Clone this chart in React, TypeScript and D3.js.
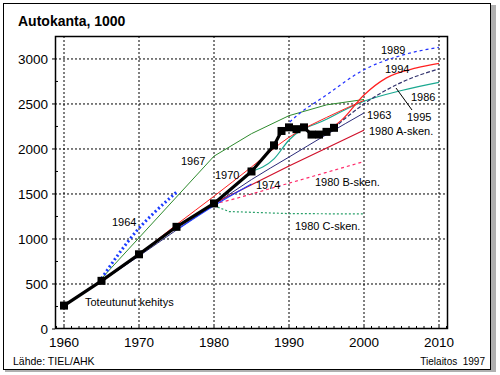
import React from "react";
import * as d3 from "d3";

const actualYears = [1960, 1965, 1970, 1975, 1980, 1985, 1988, 1989, 1990, 1991, 1992, 1993, 1994, 1995, 1996];
const actualValues = [260, 535, 830, 1135, 1395, 1750, 2040, 2200, 2240, 2220, 2240, 2160, 2160, 2190, 2235];

const f1963Years = [1960, 1965, 1970, 1975, 1980, 1985, 1990, 1995, 2000];
const f1963Values = [260, 530, 810, 1100, 1380, 1660, 1910, 2160, 2400];
const f1964Years = [1965, 1967, 1970, 1972, 1975];
const f1964Values = [560, 800, 1120, 1290, 1520];
const f1967Years = [1965, 1980, 1985, 1990, 1995, 2000];
const f1967Values = [560, 1920, 2170, 2370, 2490, 2550];
const f1970Years = [1970, 1975, 1980, 1985, 1990, 1995, 2000];
const f1970Values = [830, 1160, 1475, 1800, 2130, 2350, 2540];
const f1974Years = [1975, 1980, 1985];
const f1974Values = [1100, 1370, 1610];
const f1980AYears = [1980, 1990, 2000];
const f1980AValues = [1395, 1810, 2210];
const f1980BYears = [1980, 1982, 1985, 1990, 1995, 2000];
const f1980BValues = [1390, 1430, 1500, 1620, 1740, 1860];
const f1980CYears = [1980, 1982, 1990, 2000];
const f1980CValues = [1370, 1305, 1282, 1278];
const f1986Years = [1985, 1988, 1990, 1995, 2000, 2005, 2010];
const f1986Values = [1750, 1890, 2100, 2330, 2530, 2650, 2740];
const f1989Years = [1989, 1990, 1995, 2000, 2005, 2010];
const f1989Values = [2200, 2290, 2600, 2880, 3040, 3130];
const f1994Years = [1993, 1995, 1997, 2000, 2003, 2007, 2010];
const f1994Values = [2160, 2200, 2320, 2600, 2790, 2900, 2950];
const f1995Years = [1996, 2000, 2005, 2010];
const f1995Values = [2235, 2500, 2740, 2890];

const xTicks = [1960, 1970, 1980, 1990, 2000, 2010];
const yTicks = [0, 500, 1000, 1500, 2000, 2500, 3000];

const FONT = "'Liberation Sans', Arial, Helvetica, sans-serif";

export default function App() {
  const left = 55, top = 36, right = 448, bottom = 329;
  const x = d3.scaleLinear().domain([1958.8, 2011.2]).range([left, right]);
  const y = d3.scaleLinear().domain([0, 3255]).range([bottom, top]);

  const mk = (ys: number[], vs: number[], curve: any = d3.curveMonotoneX) =>
    d3.line<number>().x((_, i) => x(ys[i])).y((v) => y(v)).curve(curve)(vs) || "";

  const series = [
    { ys: f1963Years, vs: f1963Values, color: "#2b2b7a", w: 1, dash: "", c: d3.curveMonotoneX },
    { ys: f1967Years, vs: f1967Values, color: "#2e8b2e", w: 1, dash: "", c: d3.curveLinear },
    { ys: f1980CYears, vs: f1980CValues, color: "#2aa06a", w: 1.2, dash: "2,2", c: d3.curveLinear },
    { ys: f1980BYears, vs: f1980BValues, color: "#ff2a6a", w: 1.2, dash: "3,3", c: d3.curveMonotoneX },
    { ys: f1980AYears, vs: f1980AValues, color: "#d0102a", w: 1.2, dash: "", c: d3.curveMonotoneX },
    { ys: f1974Years, vs: f1974Values, color: "#1f3cff", w: 1.2, dash: "", c: d3.curveMonotoneX },
    { ys: f1986Years, vs: f1986Values, color: "#1aa890", w: 1.2, dash: "", c: d3.curveMonotoneX },
    { ys: f1970Years, vs: f1970Values, color: "#ff2020", w: 1, dash: "", c: d3.curveMonotoneX },
    { ys: f1989Years, vs: f1989Values, color: "#2030ff", w: 1.2, dash: "3,3", c: d3.curveMonotoneX },
    { ys: f1994Years, vs: f1994Values, color: "#ff2020", w: 1.2, dash: "", c: d3.curveMonotoneX },
    { ys: f1995Years, vs: f1995Values, color: "#33336e", w: 1.2, dash: "4,2", c: d3.curveMonotoneX },
    { ys: f1964Years, vs: f1964Values, color: "#1a3cff", w: 3, dash: "2,2.5", c: d3.curveMonotoneX },
  ];

  const xMinor = d3.range(1959, 2012);
  const yMinor = d3.range(250, 3250, 500);

  const labels = [
    { t: "1964", x: 112, y: 222 },
    { t: "1967", x: 181, y: 161 },
    { t: "1970", x: 215, y: 175 },
    { t: "1974", x: 256, y: 185 },
    { t: "1963", x: 367, y: 115 },
    { t: "1980 A-sken.", x: 369, y: 131 },
    { t: "1980 B-sken.", x: 315, y: 182 },
    { t: "1980 C-sken.", x: 295, y: 226 },
    { t: "1986", x: 411, y: 97 },
    { t: "1989", x: 381, y: 50 },
    { t: "1994", x: 385, y: 69 },
    { t: "1995", x: 407, y: 117 },
  ];

  return (
    <svg width={500} height={375} style={{ position: "absolute", left: 0, top: 0, background: "#fff" }}>
      <rect x={0} y={0} width={500} height={375} fill="#fff" />
      <rect x={491} y={5} width={5} height={367} fill="#b0b0b0" />
      <rect x={5} y={369} width={491} height={3} fill="#b0b0b0" />
      <rect x={3.5} y={3.5} width={487} height={366} fill="#fff" stroke="#000" strokeWidth={1} />
      <text x={18} y={26} fontFamily={FONT} fontWeight="bold" fontSize={14}>Autokanta, 1000</text>

      {xTicks.map((t) => (
        <line key={"gx" + t} x1={x(t)} x2={x(t)} y1={top} y2={bottom} stroke="#000" strokeWidth={1} strokeDasharray="2,2" />
      ))}
      {yTicks.filter((t) => t > 0).map((t) => (
        <line key={"gy" + t} x1={left} x2={right} y1={y(t)} y2={y(t)} stroke="#000" strokeWidth={1} strokeDasharray="2,2" />
      ))}
      {xMinor.map((t) => (
        <line key={"mx" + t} x1={x(t)} x2={x(t)} y1={bottom} y2={bottom - 3} stroke="#000" strokeWidth={1} />
      ))}
      {yMinor.map((t) => (
        <line key={"my" + t} x1={left} x2={left + 3} y1={y(t)} y2={y(t)} stroke="#000" strokeWidth={1} />
      ))}
      {yTicks.map((t) => (
        <line key={"ty" + t} x1={left - 3} x2={left} y1={y(t)} y2={y(t)} stroke="#000" strokeWidth={1} />
      ))}

      <defs>
        <clipPath id="plotclip">
          <rect x={left} y={top} width={right - left} height={bottom - top} />
        </clipPath>
      </defs>
      <g clipPath="url(#plotclip)">
        {series.map((s, i) => (
          <path key={i} d={mk(s.ys, s.vs, s.c)} fill="none" stroke={s.color} strokeWidth={s.w} strokeDasharray={s.dash || undefined} />
        ))}
        <path d={mk(actualYears, actualValues, d3.curveLinear)} fill="none" stroke="#000" strokeWidth={3.2} strokeLinejoin="round" />
        {actualYears.map((yr, i) => (
          <rect key={yr} x={x(yr) - 4} y={y(actualValues[i]) - 4} width={8} height={8} fill="#000" />
        ))}
      </g>
      <rect x={left + 0.5} y={top + 0.5} width={right - left - 1} height={bottom - top - 1} fill="none" stroke="#000" strokeWidth={1.5} />

      <line x1={396} y1={88} x2={412} y2={110} stroke="#000" strokeWidth={1} />

      {labels.map((l) => (
        <text key={l.t} x={l.x} y={l.y} dy="0.35em" fontFamily={FONT} fontSize={11} fill="#000">{l.t}</text>
      ))}
      <text x={85} y={302} dy="0.35em" fontFamily={FONT} fontSize={11} fill="#000">Toteutunut kehitys</text>

      {yTicks.map((t) => (
        <text key={"yl" + t} x={48} y={y(t)} dy="0.36em" textAnchor="end" fontFamily={FONT} fontSize={13.5}>{t}</text>
      ))}
      {xTicks.map((t) => (
        <text key={"xl" + t} x={x(t)} y={347} textAnchor="middle" fontFamily={FONT} fontSize={13.5}>{t}</text>
      ))}
      <text x={13} y={365} fontFamily={FONT} fontSize={10.5}>Lähde: TIEL/AHK</text>
      <text x={485} y={365} textAnchor="end" fontFamily={FONT} fontSize={10} xmlSpace="preserve">Tielaitos  1997</text>
    </svg>
  );
}
